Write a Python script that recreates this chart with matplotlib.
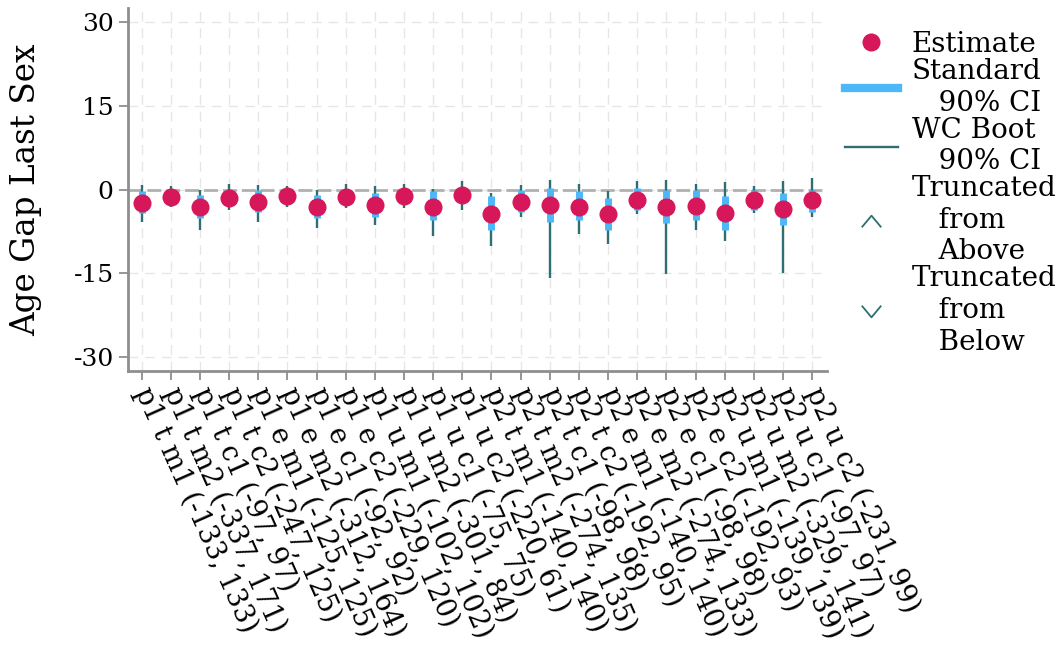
import matplotlib
matplotlib.use('Agg')
import matplotlib.pyplot as plt
from matplotlib.lines import Line2D
from matplotlib.path import Path
import numpy as np

labels = [
    "p1 t m1 (-133, 133)", "p1 t m2 (-337, 171)", "p1 t c1 (-97, 97)", "p1 t c2 (-247, 125)",
    "p1 e m1 (-125, 125)", "p1 e m2 (-312, 164)", "p1 e c1 (-92, 92)", "p1 e c2 (-229, 120)",
    "p1 u m1 (-102, 102)", "p1 u m2 (-301, 84)", "p1 u c1 (-75, 75)", "p1 u c2 (-220, 61)",
    "p2 t m1 (-140, 140)", "p2 t m2 (-274, 135)", "p2 t c1 (-98, 98)", "p2 t c2 (-192, 95)",
    "p2 e m1 (-140, 140)", "p2 e m2 (-274, 133)", "p2 e c1 (-98, 98)", "p2 e c2 (-192, 93)",
    "p2 u m1 (-139, 139)", "p2 u m2 (-329, 141)", "p2 u c1 (-97, 97)", "p2 u c2 (-231, 99)",
]
estimate = [-2.3, -1.25, -3.1, -1.4, -2.2, -1.2, -3.1, -1.3, -2.8, -1.2, -3.0, -1.0,
            -4.35, -2.2, -2.8, -3.1, -4.3, -1.9, -3.0, -2.9, -4.2, -1.9, -3.4, -1.9]
std_lo = [-4.2, -2.2, -5.1, -2.7, -3.9, -2.1, -5.1, -2.4, -4.8, -2.1, -5.4, -2.1,
          -7.2, -3.9, -5.7, -5.4, -7.2, -3.6, -6.0, -5.4, -7.2, -3.6, -6.3, -3.9]
std_hi = [-0.3, -0.3, -0.9, 0.0, 0.0, -0.3, -0.9, 0.0, -0.6, 0.0, -0.3, 0.3,
          -1.2, 0.0, 0.3, -0.3, -1.5, 0.3, 0.0, -0.1, -1.2, -0.1, -0.6, 0.0]
wc_lo = [-5.7, -3.0, -7.2, -3.6, -5.7, -3.0, -6.9, -3.3, -6.3, -3.3, -8.2, -3.7,
         -10.1, -4.8, -15.8, -7.9, -9.8, -4.35, -15.1, -7.3, -9.2, -4.2, -15.0, -4.8]
wc_hi = [0.9, 0.6, 0.0, 1.0, 0.9, 0.6, 0.0, 1.0, 0.6, 1.0, 0.2, 1.6,
         -0.6, 0.9, 1.8, 1.0, -0.2, 1.5, 1.8, 1.0, 1.4, 0.6, 1.5, 2.2]
yticks = [-30, -15, 0, 15, 30]
ytick_labels = ["-30", "-15", "0", "15", "30"]

c_est = '#d6175a'
c_std = '#4db8f7'
c_wc = '#2f6e72'
c_axis = '#8e8e8e'

plt.rcParams['font.family'] = ['DejaVu Serif']
plt.rcParams['axes.unicode_minus'] = False

fig = plt.figure(figsize=(10.63, 6.5), dpi=100)
ax = fig.add_axes([0.1207, 0.4292, 0.657, 0.5585])
x = np.arange(1, len(labels) + 1)

ax.vlines(x, wc_lo, wc_hi, color=c_wc, lw=1.7, zorder=3)
ax.vlines(x, std_lo, std_hi, color=c_std, lw=5, zorder=4)
ax.plot(x, estimate, 'o', color=c_est, ms=13, mec='none', zorder=5)
ax.axhline(0, color='#b0b0b0', lw=2.0, ls=(0, (5, 1.8)), zorder=2)

ax.set_xlim(0.54, 24.5)
ax.set_ylim(-32.5, 32.6)
ax.set_yticks(yticks, ytick_labels, fontsize=18)
ax.set_xticks(x, labels, fontsize=19.5, rotation=-66, ha='left', va='center',
              rotation_mode='anchor')
ax.grid(True, color='#e6e6e6', lw=1.0, ls=(0, (7, 5)), zorder=0)
ax.set_axisbelow(True)
for s in ['top', 'right']:
    ax.spines[s].set_visible(False)
for s in ['left', 'bottom']:
    ax.spines[s].set_color(c_axis)
    ax.spines[s].set_linewidth(2)
ax.tick_params(axis='both', color=c_axis, length=6.5, width=1.3, pad=4)
ax.tick_params(axis='x', pad=6)
ax.set_ylabel('Age Gap Last Sex', fontsize=23.5)
ax.yaxis.set_label_coords(-0.124, 0.5)

chev_up = Path([(-1, -0.6), (0, 0.6), (1, -0.6)], [Path.MOVETO, Path.LINETO, Path.LINETO])
chev_dn = Path([(-1, 0.6), (0, -0.6), (1, 0.6)], [Path.MOVETO, Path.LINETO, Path.LINETO])
handles = [
    Line2D([], [], marker='o', color=c_est, ls='none', ms=13, mec='none'),
    Line2D([], [], color=c_std, lw=6),
    Line2D([], [], color=c_wc, lw=1.7),
    Line2D([], [], marker=chev_up, color=c_wc, ls='none', ms=14, mfc='none', mew=1.3),
    Line2D([], [], marker=chev_dn, color=c_wc, ls='none', ms=14, mfc='none', mew=1.3),
]
leg_labels = ['Estimate', 'Standard\n   90% CI', 'WC Boot\n   90% CI',
              'Truncated\n   from\n   Above', 'Truncated\n   from\n   Below']
leg = fig.legend(handles, leg_labels, loc='upper left', bbox_to_anchor=(845 / 1063, 1 - 31 / 650),
                 frameon=False, fontsize=20, borderpad=0, borderaxespad=0,
                 handlelength=1.9, handletextpad=0.5, labelspacing=0.0)
for t in leg.get_texts():
    t.set_linespacing(1.22)

fig.savefig('out.png', dpi=100)
